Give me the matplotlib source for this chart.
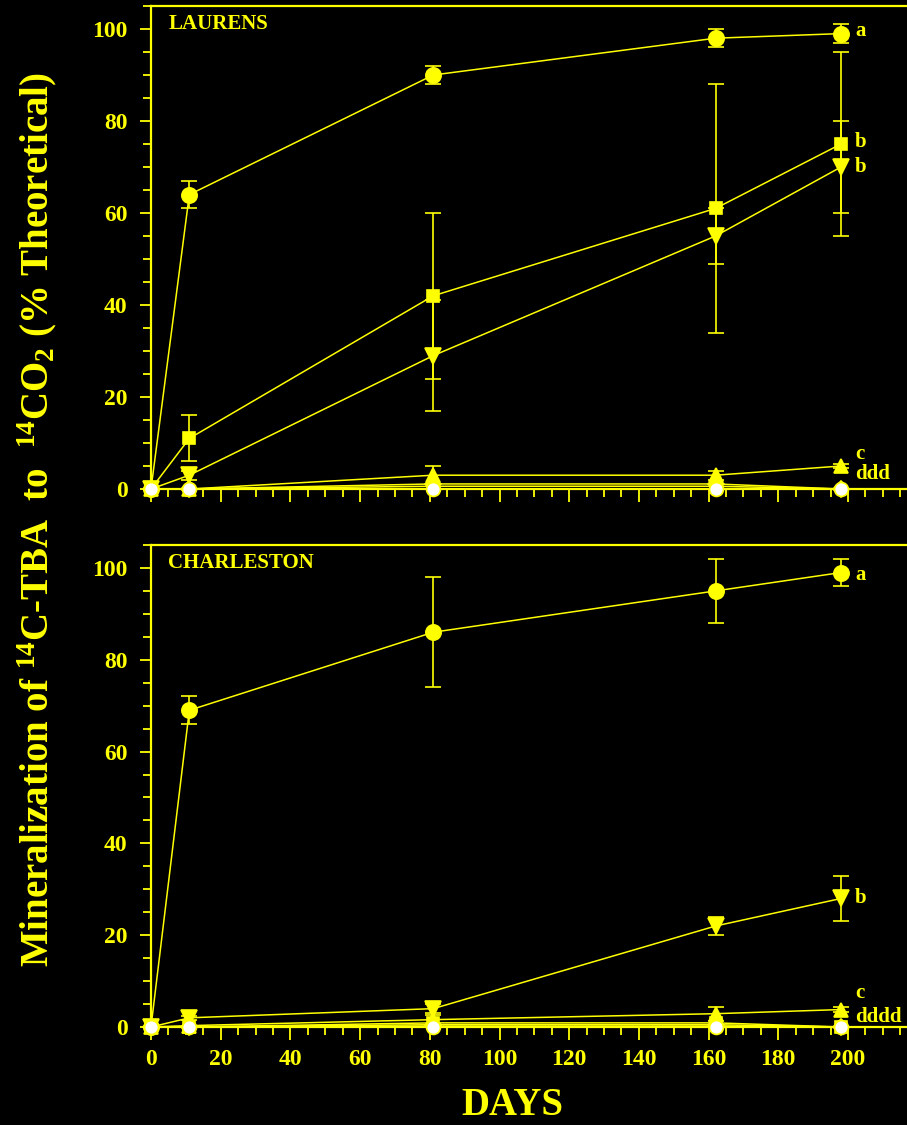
import numpy as np
import matplotlib
matplotlib.use("Agg")
import matplotlib.pyplot as plt
from matplotlib.ticker import MultipleLocator

# sampling days
days = [0, 11, 81, 162, 198]

# LAURENS
lau_a = [0, 64, 90, 98, 99]
lau_a_err = [0, 3, 2, 2, 2]
lau_b_sq = [0, 11, 42, 61, 75]
lau_b_sq_err = [0, 5, 18, 27, 20]
lau_b_tri = [0, 3, 29, 55, 70]
lau_b_tri_err = [0, 1, 12, 6, 10]
lau_c = [0, 0, 3, 3, 5]
lau_c_err = [0, 0, 2, 1, 0.5]
lau_d1 = [0, 0, 1.1, 1.1, 0]
lau_d2 = [0, 0, 0.6, 0.6, 0]
lau_d3 = [0, 0, 0, 0, 0]

# CHARLESTON
cha_a = [0, 69, 86, 95, 99]
cha_a_err = [0, 3, 12, 7, 3]
cha_b = [0, 2, 4, 22, 28]
cha_b_err = [0, 0.5, 1, 2, 5]
cha_c = [0, 0.3, 1.6, 2.9, 3.8]
cha_c_err = [0, 0, 1, 1.5, 0.5]
cha_d1 = [0, 0, 0.9, 0.9, 0]
cha_d2 = [0, 0, 0.5, 0.5, 0]
cha_d3 = [0, 0, 0.2, 0.2, 0]
cha_d4 = [0, 0, 0, 0, 0]

YEL = "#FFFF00"
FONT = "Liberation Serif"
plt.rcParams["font.family"] = [FONT, "DejaVu Serif"]
plt.rcParams["font.weight"] = "bold"
plt.rcParams["mathtext.fontset"] = "custom"
plt.rcParams["mathtext.rm"] = FONT + ":bold"
plt.rcParams["mathtext.it"] = FONT + ":bold"
plt.rcParams["mathtext.bf"] = FONT + ":bold"
plt.rcParams["mathtext.default"] = "rm"

XMAX = 218
fig = plt.figure(figsize=(9.07, 11.25), dpi=100, facecolor="black")
ax_top = fig.add_axes([151 / 907, 1 - 489 / 1125, XMAX * 3.485 / 907, 483 / 1125])
ax_bot = fig.add_axes([151 / 907, 1 - 1027 / 1125, XMAX * 3.485 / 907, 482 / 1125])


def series(ax, y, err=None, marker="o", ms=10, face=YEL, z=3):
    ax.errorbar(days, y, yerr=err, color=YEL, lw=1.1, marker=marker, ms=ms,
                mfc=face, mec=YEL, mew=1.2, capsize=6, capthick=1.2,
                elinewidth=1.2, clip_on=False, zorder=z)


def style(ax, name, labels):
    ax.set_facecolor("black")
    ax.set_xlim(0, XMAX)
    ax.set_ylim(0, 105)
    ax.spines["right"].set_visible(False)
    for s in ["left", "bottom", "top"]:
        ax.spines[s].set_color(YEL)
        ax.spines[s].set_linewidth(1.6)
        ax.spines[s].set_zorder(2)
    ax.xaxis.set_major_locator(MultipleLocator(20))
    ax.xaxis.set_minor_locator(MultipleLocator(5))
    ax.yaxis.set_major_locator(MultipleLocator(20))
    ax.yaxis.set_minor_locator(MultipleLocator(5))
    ax.tick_params(which="both", direction="out", colors=YEL, width=1.3,
                   top=False, right=False)
    ax.tick_params(axis="y", which="major", length=8, pad=9, labelsize=17)
    ax.tick_params(axis="y", which="minor", length=6)
    ax.tick_params(axis="x", which="major", length=9, pad=7, labelsize=17)
    ax.tick_params(axis="x", which="minor", length=6)
    for lab in ax.get_xticklabels() + ax.get_yticklabels():
        lab.set_fontweight("bold")
    ax.text(5, 101, name, color=YEL, fontsize=15, fontweight="bold",
            va="center", ha="left")
    for txt, yv in labels:
        ax.text(202, yv, txt, color=YEL, fontsize=15, fontweight="bold",
                va="center", ha="left")


# top panel
series(ax_top, lau_d1, marker="D", ms=8)
series(ax_top, lau_d2, marker="h", ms=9)
series(ax_top, lau_c, lau_c_err, marker="^", ms=10)
series(ax_top, lau_b_tri, lau_b_tri_err, marker="v", ms=11)
series(ax_top, lau_b_sq, lau_b_sq_err, marker="s", ms=9)
series(ax_top, lau_a, lau_a_err, marker="o", ms=11)
series(ax_top, lau_d3, marker="o", ms=10, face="white", z=5)
style(ax_top, "LAURENS", [("a", 99.5), ("b", 75.5), ("b", 70), ("c", 7.6), ("ddd", 3.2)])
ax_top.tick_params(axis="x", labelbottom=False)

# bottom panel
series(ax_bot, cha_d1, marker="s", ms=8)
series(ax_bot, cha_d2, marker="D", ms=8)
series(ax_bot, cha_d3, marker="h", ms=9)
series(ax_bot, cha_c, cha_c_err, marker="^", ms=10)
series(ax_bot, cha_b, cha_b_err, marker="v", ms=11)
series(ax_bot, cha_a, cha_a_err, marker="o", ms=11)
series(ax_bot, cha_d4, marker="o", ms=10, face="white", z=5)
style(ax_bot, "CHARLESTON", [("a", 98.5), ("b", 28), ("c", 7.4), ("dddd", 2.2)])

fig.text(512 / 907, 1 - 1124 / 1125, "DAYS", color=YEL, fontsize=28,
         fontweight="bold", ha="center", va="bottom")
fig.text(37 / 907, 1 - 520 / 1125,
         r"Mineralization of $^{14}$C-TBA  to  $^{14}$CO$_{2}$ (% Theoretical)",
         color=YEL, fontsize=28, fontweight="bold", rotation=90,
         ha="center", va="center")

fig.savefig("out.png", dpi=100, facecolor="black")
